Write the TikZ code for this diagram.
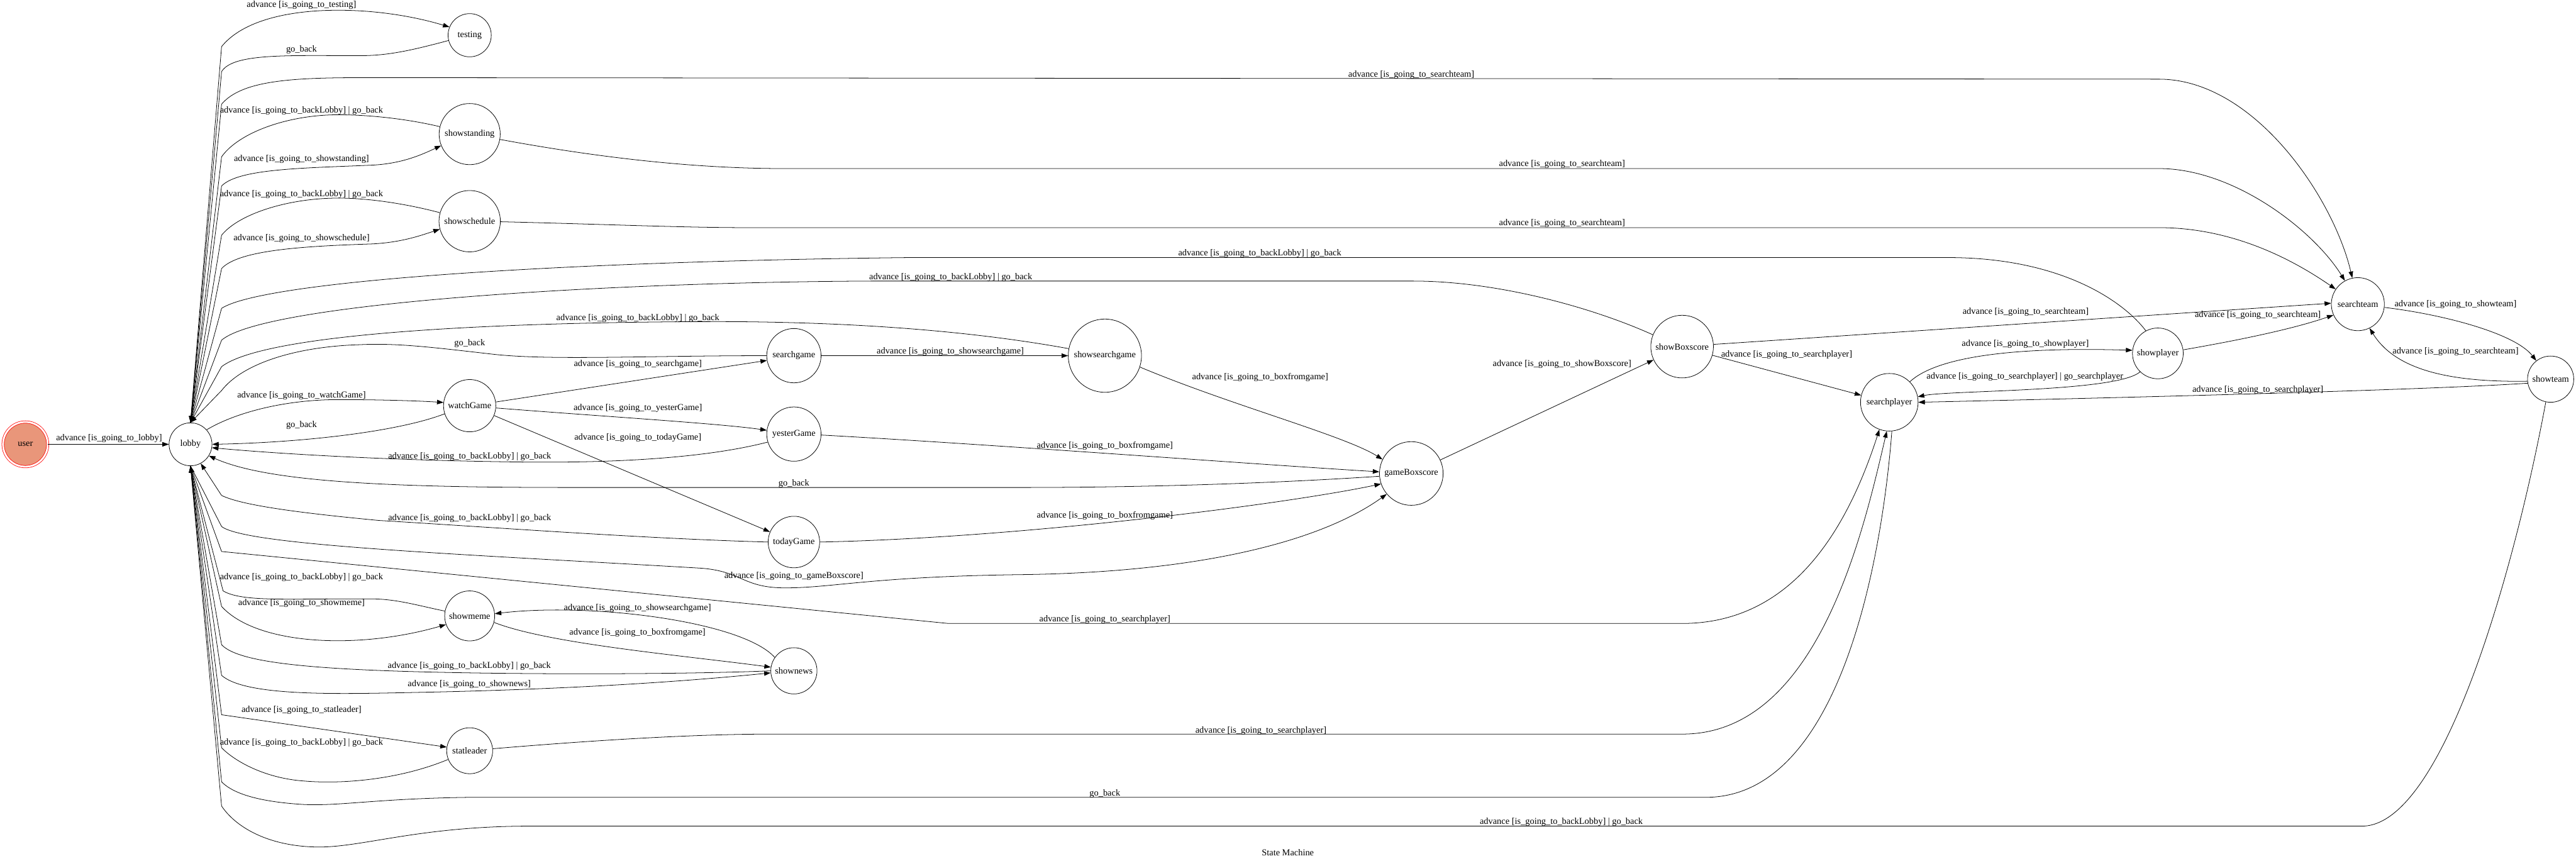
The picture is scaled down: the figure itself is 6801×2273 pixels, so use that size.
\documentclass[tikz,border=0pt]{standalone}
\usepackage{fontspec}
\setmainfont{Liberation Serif}
\usetikzlibrary{arrows.meta}
\definecolor{salmon}{RGB}{233,150,122}
\newcommand{\adv}[1]{advance [is\_going\_to\_#1]}
\newcommand{\golobby}{advance [is\_going\_to\_backLobby] | go\_back}

\begin{document}
\begin{tikzpicture}[x=0.015cm, y=-0.015cm, font=\fontsize{10.2}{12}\selectfont,
    main/.style = {draw, circle, inner sep=0pt, line width=0.55pt},
    tr/.style = {-{Triangle[length=7.3pt,width=5.1pt]}, line width=0.55pt},
    lbl/.style = {inner sep=1pt}]
\useasboundingbox (0,0) rectangle (6801,2273);

\node[main, draw=red, double=white, double distance=2pt, fill=salmon, minimum size=1.77cm] (user) at (67,1173) {user};
\node[main, minimum size=1.70cm] (lobby) at (503,1173) {lobby};
\node[main, minimum size=1.71cm] (testing) at (1240,93) {testing};
\node[main, minimum size=2.42cm] (showstanding) at (1240,354) {showstanding};
\node[main, minimum size=2.43cm] (showschedule) at (1240,584) {showschedule};
\node[main, minimum size=2.07cm] (watchGame) at (1240,1071) {watchGame};
\node[main, minimum size=1.98cm] (showmeme) at (1240,1626) {showmeme};
\node[main, minimum size=1.82cm] (statleader) at (1240,1982) {statleader};
\node[main, minimum size=2.15cm] (searchgame) at (2096,939) {searchgame};
\node[main, minimum size=2.15cm] (yesterGame) at (2096,1146) {yesterGame};
\node[main, minimum size=2.04cm] (todayGame) at (2096,1431) {todayGame};
\node[main, minimum size=1.83cm] (shownews) at (2096,1771) {shownews};
\node[main, minimum size=2.90cm] (showsearchgame) at (2917,939) {showsearchgame};
\node[main, minimum size=2.52cm] (gameBoxscore) at (3726,1250) {gameBoxscore};
\node[main, minimum size=2.48cm] (showBoxscore) at (4441,915) {showBoxscore};
\node[main, minimum size=2.28cm] (searchplayer) at (4988,1062) {searchplayer};
\node[main, minimum size=2.01cm] (showplayer) at (5697,933) {showplayer};
\node[main, minimum size=2.10cm] (searchteam) at (6225,803) {searchteam};
\node[main, minimum size=1.83cm] (showteam) at (6734,1001) {showteam};
\node (title) at (3400,2250) {State Machine};

\draw[tr] (user) -- (lobby) node[lbl] (l1) at (288,1158) {\adv{lobby}};
\draw[tr] (lobby.north) -- (585,123) .. controls (640,55) and (760,27) .. (893,27) .. controls (1000,27) and (1100,45) .. (testing.158) node[lbl] (l2) at (796,14) {\adv{testing}};
\draw[tr] (testing.194) .. controls (1080,135) and (1020,147) .. (950,147) .. controls (760,147) and (615,140) .. (585,189) -- (lobby.north) node[lbl] (l3) at (796,132) {go\_back};
\draw[tr] (lobby.north) -- (585,275) .. controls (640,210) and (780,205) .. (970,205) -- (5700,209) .. controls (5950,209) and (6160,520) .. (searchteam.102) node[lbl] (l4) at (3726,197) {\adv{searchteam}};
\draw[tr] (showstanding.166) .. controls (1080,315) and (980,303) .. (893,303) .. controls (760,303) and (630,350) .. (585,414) -- (lobby.north) node[lbl] (l5) at (796,293) {\golobby};
\draw[tr] (lobby.north) -- (585,491) .. controls (630,445) and (800,444) .. (982,436) .. controls (1060,432) and (1110,410) .. (showstanding.202) node[lbl] (l6) at (796,421) {\adv{showstanding}};
\draw[tr] (showstanding.-10) .. controls (1600,420) and (1850,445) .. (2068,445) -- (5700,445) .. controls (5900,445) and (6110,610) .. (searchteam.119) node[lbl] (l7) at (4124,434) {\adv{searchteam}};
\draw[tr] (showschedule.164) .. controls (1080,540) and (980,523) .. (893,523) .. controls (760,523) and (630,565) .. (585,621) -- (lobby.north) node[lbl] (l8) at (796,513) {\golobby};
\draw[tr] (lobby.north) -- (585,709) .. controls (630,660) and (800,650) .. (982,644) .. controls (1060,640) and (1110,622) .. (showschedule.195) node[lbl] (l9) at (796,630) {\adv{showschedule}};
\draw[tr] (showschedule.-1) .. controls (1600,592) and (1800,601) .. (1976,601) -- (5700,601) .. controls (5900,601) and (6060,690) .. (searchteam.146) node[lbl] (l10) at (4124,590) {\adv{searchteam}};
\draw[tr] (showplayer.118) .. controls (5610,800) and (5450,682) .. (5150,680) -- (2400,680) .. controls (1500,690) and (700,740) .. (585,814) -- (lobby.north) node[lbl] (l11) at (3326,669) {\golobby};
\draw[tr] (showBoxscore.158) .. controls (4200,810) and (3950,742) .. (3730,742) -- (2300,742) .. controls (1600,745) and (700,800) .. (585,898) -- (lobby.north) node[lbl] (l12) at (2510,732) {\golobby};
\draw[tr] (showsearchgame.169) .. controls (2600,880) and (2300,850) .. (1900,849) .. controls (1300,850) and (700,880) .. (585,968) -- (lobby.north) node[lbl] (l13) at (1684,840) {\golobby};
\draw[tr] (searchgame.west) .. controls (1700,939) and (1450,952) .. (1300,935) .. controls (1150,918) and (1050,905) .. (950,910) .. controls (780,915) and (640,960) .. (585,1031) -- (lobby.north) node[lbl] (l14) at (1240,906) {go\_back};
\draw[tr] (lobby.42) .. controls (620,1090) and (750,1055) .. (893,1055) .. controls (1000,1055) and (1100,1058) .. (watchGame.173) node[lbl] (l15) at (796,1044) {\adv{watchGame}};
\draw[tr] (watchGame.198) .. controls (1050,1140) and (800,1168) .. (lobby.east) node[lbl] (l16) at (796,1122) {go\_back};
\draw[tr] (watchGame.8) -- (searchgame.190) node[lbl] (l17) at (1684,961) {\adv{searchgame}};
\draw[tr] (watchGame.-5) .. controls (1600,1100) and (1900,1118) .. (yesterGame.172) node[lbl] (l18) at (1684,1077) {\adv{yesterGame}};
\draw[tr] (watchGame.-22) -- (todayGame.157) node[lbl] (l19) at (1684,1156) {\adv{todayGame}};
\draw[tr] (yesterGame.197) .. controls (1900,1200) and (1700,1222) .. (1402,1220) .. controls (1000,1216) and (700,1195) .. (lobby.-9) node[lbl] (l20) at (1240,1205) {\golobby};
\draw[tr] (gameBoxscore.185) .. controls (3300,1280) and (2950,1287) .. (2700,1287) -- (1500,1287) .. controls (1000,1287) and (700,1270) .. (lobby.-32) node[lbl] (l21) at (2096,1277) {go\_back};
\draw[tr] (todayGame.west) .. controls (1700,1422) and (1300,1392) .. (1000,1374) .. controls (800,1355) and (640,1335) .. (585,1308) -- (lobby.-62) node[lbl] (l22) at (1240,1368) {\golobby};
\draw[tr] (lobby.south) -- (585,1390) .. controls (650,1440) and (1200,1462) .. (1850,1500) .. controls (1960,1508) and (1960,1552) .. (2073,1552) .. controls (2200,1552) and (2300,1522) .. (2700,1517) .. controls (3200,1510) and (3500,1420) .. (gameBoxscore.220) node[lbl] (l23) at (2096,1521) {\adv{gameBoxscore}};
\draw[tr] (lobby.south) -- (585,1456) -- (2504,1646) -- (4440,1646) .. controls (4700,1646) and (4860,1450) .. (searchplayer.250) node[lbl] (l24) at (2917,1635) {\adv{searchplayer}};
\draw[tr] (showmeme.169) .. controls (1100,1598) and (1050,1582) .. (982,1581) .. controls (760,1580) and (640,1590) .. (589,1560) -- (lobby.south) node[lbl] (l25) at (796,1524) {\golobby};
\draw[tr] (lobby.south) -- (585,1601) .. controls (680,1705) and (950,1715) .. (showmeme.200) node[lbl] (l26) at (796,1593) {\adv{showmeme}};
\draw[tr] (shownews.west) .. controls (1800,1781) and (1300,1782) .. (1000,1770) .. controls (750,1760) and (620,1740) .. (585,1702) -- (lobby.south) node[lbl] (l27) at (1239,1758) {\golobby};
\draw[tr] (lobby.south) -- (585,1783) .. controls (650,1840) and (900,1832) .. (1100,1828) .. controls (1500,1820) and (1800,1800) .. (shownews.185) node[lbl] (l28) at (1239,1806) {\adv{shownews}};
\draw[tr] (lobby.south) -- (585,1887) -- (statleader.171) node[lbl] (l29) at (796,1875) {\adv{statleader}};
\draw[tr] (statleader.202) .. controls (1050,2060) and (900,2070) .. (804,2062) .. controls (700,2055) and (620,2010) .. (585,1974) -- (lobby.south) node[lbl] (l30) at (796,1961) {\golobby};
\draw[tr] (searchplayer.-85) .. controls (4975,1400) and (4880,2105) .. (4503,2105) -- (1240,2105) .. controls (1000,2108) and (900,2128) .. (804,2124) .. controls (700,2118) and (620,2100) .. (585,2064) -- (lobby.south) node[lbl] (l31) at (2917,2095) {go\_back};
\draw[tr] (statleader.5) .. controls (1500,1960) and (1800,1938) .. (2037,1938) -- (4442,1938) .. controls (4800,1938) and (4920,1400) .. (searchplayer.265) node[lbl] (l32) at (3329,1929) {\adv{searchplayer}};
\draw[tr] (showteam.258) .. controls (6640,1500) and (6450,2181) .. (6236,2181) -- (1400,2181) .. controls (1100,2181) and (950,2240) .. (830,2236) .. controls (700,2232) and (620,2180) .. (585,2128) -- (lobby.south) node[lbl] (l33) at (4122,2171) {\golobby};
\draw[tr] (yesterGame.-2) .. controls (2600,1172) and (3300,1225) .. (gameBoxscore.177) node[lbl] (l34) at (2917,1177) {\adv{boxfromgame}};
\draw[tr] (todayGame.east) .. controls (2700,1420) and (3400,1330) .. (gameBoxscore.199) node[lbl] (l35) at (2917,1362) {\adv{boxfromgame}};
\draw[tr] (showsearchgame.-18) .. controls (3250,1070) and (3550,1150) .. (gameBoxscore.154) node[lbl] (l36) at (3327,997) {\adv{boxfromgame}};
\draw[tr] (searchgame) -- (showsearchgame) node[lbl] (l37) at (2509,928) {\adv{showsearchgame}};
\draw[tr] (gameBoxscore.25) -- (showBoxscore.205) node[lbl] (l38) at (4124,962) {\adv{showBoxscore}};
\draw[tr] (showBoxscore.4) -- (searchteam.178) node[lbl] (l39) at (5348,824) {\adv{searchteam}};
\draw[tr] (showBoxscore.-16) -- (searchplayer.166) node[lbl] (l40) at (4717,936) {\adv{searchplayer}};
\draw[tr] (searchplayer.45) .. controls (5110,945) and (5300,915) .. (showplayer.173) node[lbl] (l41) at (5347,908) {\adv{showplayer}};
\draw[tr] (showplayer.226) .. controls (5590,1035) and (5150,1030) .. (searchplayer.11) node[lbl] (l42) at (5346,995) {advance [is\_going\_to\_searchplayer] | go\_searchplayer};
\draw[tr] (showteam.190) .. controls (6400,1030) and (5600,1050) .. (searchplayer.east) node[lbl] (l43) at (5961,1029) {\adv{searchplayer}};
\draw[tr] (showplayer.8) .. controls (5900,900) and (6050,870) .. (searchteam.204) node[lbl] (l44) at (5961,832) {\adv{searchteam}};
\draw[tr] (searchteam.-7) .. controls (6450,830) and (6640,880) .. (showteam.128) node[lbl] (l45) at (6483,804) {\adv{showteam}};
\draw[tr] (showteam.185) .. controls (6450,1010) and (6320,970) .. (searchteam.-64) node[lbl] (l46) at (6483,928) {\adv{searchteam}};
\draw[tr] (shownews.145) .. controls (1960,1640) and (1560,1590) .. (showmeme.5) node[lbl] (l47) at (1683,1605) {\adv{showsearchgame}};
\draw[tr] (showmeme.-15) .. controls (1450,1700) and (1800,1730) .. (shownews.171) node[lbl] (l48) at (1683,1671) {\adv{boxfromgame}};
\end{tikzpicture}
\end{document}
